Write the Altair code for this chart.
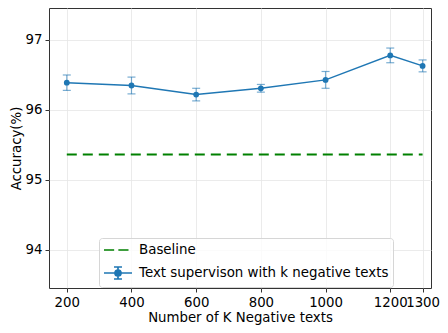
import altair as alt
import pandas as pd

# ---- data ----
k_values = [200, 400, 600, 800, 1000, 1200, 1300]
accuracy = [96.39, 96.35, 96.22, 96.31, 96.43, 96.78, 96.63]
error = [0.11, 0.12, 0.09, 0.055, 0.12, 0.105, 0.085]
baseline_k = [200, 1300]
baseline_acc = [95.365, 95.365]
series_names = ["Baseline", "Text supervison with k negative texts"]
x_ticks = [200, 400, 600, 800, 1000, 1200, 1300]
y_ticks = [94, 95, 96, 97]

BLUE = "#1f77b4"
GREEN = "#008000"

main_df = pd.DataFrame({
    "k": k_values,
    "acc": accuracy,
    "lo": [a - e for a, e in zip(accuracy, error)],
    "hi": [a + e for a, e in zip(accuracy, error)],
    "series": series_names[1],
})
base_df = pd.DataFrame({"k": baseline_k, "acc": baseline_acc, "series": series_names[0]})

# legend symbols (custom SVG paths)
dash_path = "M-2,0H-0.55M0.05,0H1.5"
errbar_path = ("M-2,0H2M0,-0.86V0.86M-0.57,-0.86H0.57M-0.57,0.86H0.57"
               "M0.43,0A0.43,0.43,0,1,1,-0.43,0A0.43,0.43,0,1,1,0.43,0Z")

xs = alt.Scale(domain=[145, 1326], nice=False, zero=False)
ys = alt.Scale(domain=[93.457, 97.457], nice=False, zero=False)

x_enc = alt.X("k:Q", scale=xs, title="Number of K Negative texts",
              axis=alt.Axis(values=x_ticks, format="d", labelOverlap=False,
                            labelFlush=False, titlePadding=2, labelPadding=3))
y_enc = alt.Y("acc:Q", scale=ys, title="Accuracy(%)",
              axis=alt.Axis(values=y_ticks, format="d", titlePadding=2, labelPadding=3))

legend = alt.Legend(
    title=None, orient="none", legendX=50, legendY=230,
    fillColor="rgba(255,255,255,0.8)", strokeColor="#d6d6d6", cornerRadius=3,
    padding=4, symbolSize=196, symbolOffset=7, labelOffset=13, rowPadding=6,
    symbolOpacity=1, symbolStrokeWidth=1.7,
    labelLimit=400, labelFont="DejaVu Sans", labelFontSize=13.4, labelColor="#000",
)
fill_enc = alt.Fill("series:N", scale=alt.Scale(domain=series_names, range=[GREEN, BLUE]),
                    legend=legend)
stroke_enc = alt.Stroke("series:N", scale=alt.Scale(domain=series_names, range=[GREEN, BLUE]),
                        legend=legend)
shape_enc = alt.Shape("series:N", scale=alt.Scale(domain=series_names,
                                                  range=[dash_path, errbar_path]),
                      legend=legend)

baseline = alt.Chart(base_df).mark_line(strokeWidth=2, strokeDash=[10, 6], color=GREEN).encode(
    x=x_enc, y=y_enc)

err_rule = alt.Chart(main_df).mark_rule(color=BLUE, opacity=0.6, strokeWidth=1.2).encode(
    x="k:Q", y="lo:Q", y2="hi:Q")
cap_lo = alt.Chart(main_df).mark_tick(color=BLUE, opacity=0.6, thickness=1.2, size=8,
                                     orient="horizontal").encode(x="k:Q", y="lo:Q")
cap_hi = alt.Chart(main_df).mark_tick(color=BLUE, opacity=0.6, thickness=1.2, size=8,
                                     orient="horizontal").encode(x="k:Q", y="hi:Q")

line = alt.Chart(main_df).mark_line(strokeWidth=1.5, color=BLUE).encode(x="k:Q", y="acc:Q")
points = alt.Chart(main_df).mark_circle(size=34, opacity=1, color=BLUE).encode(x="k:Q", y="acc:Q")
legend_layer = alt.Chart(main_df).mark_point(opacity=0).encode(
    x="k:Q", y="acc:Q", fill=fill_enc, stroke=stroke_enc, shape=shape_enc)

chart = alt.layer(baseline, err_rule, cap_lo, cap_hi, line, points, legend_layer).properties(
    width=382, height=280,
    autosize=alt.AutoSizeParams(type="none"),
    padding={"left": 41, "top": 0, "right": 9, "bottom": 37},
).configure_view(stroke="#333", strokeWidth=1).configure_axis(
    labelFont="DejaVu Sans", labelFontSize=13.3, labelColor="#000",
    titleFont="DejaVu Sans", titleFontSize=13.3, titleFontWeight="normal", titleColor="#000",
    gridColor="#e6e6e6", gridWidth=0.8, domain=False, tickColor="#333", tickSize=4,
)

chart.save("out.html", embed_options={"renderer": "svg", "actions": False})
